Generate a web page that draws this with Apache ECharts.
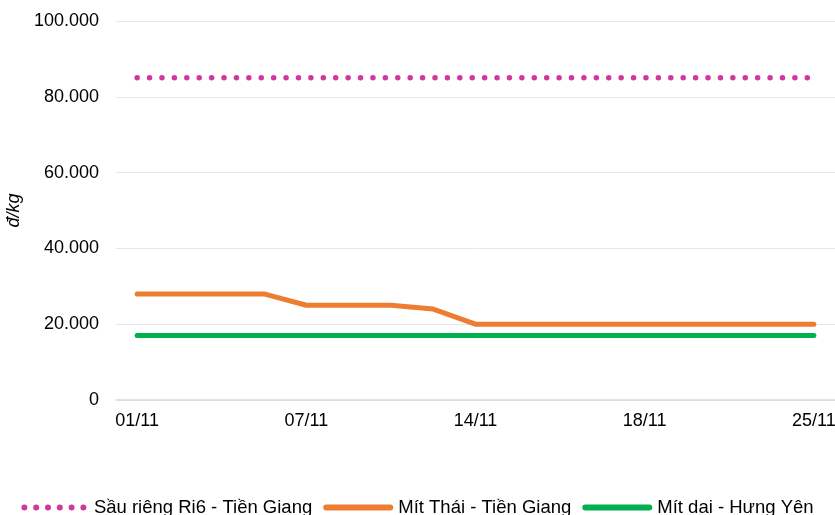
<!DOCTYPE html>
<html>
<head>
<meta charset="utf-8">
<script src="https://cdn.jsdelivr.net/npm/echarts@6/dist/echarts.min.js"></script>
<style>
  html, body { margin: 0; padding: 0; background: #fff; }
  #chart { width: 835px; height: 515px; }
</style>
</head>
<body>
<div id="chart"></div>
<script>
// Trading dates (November)
const categories = ['01/11', '02/11', '03/11', '04/11', '07/11', '08/11', '09/11', '10/11', '14/11',
                    '15/11', '16/11', '17/11', '18/11', '21/11', '22/11', '23/11', '25/11'];

// Prices, đ/kg
const sauRiengRi6 = [85000, 85000, 85000, 85000, 85000, 85000, 85000, 85000, 85000,
                     85000, 85000, 85000, 85000, 85000, 85000, 85000, 85000];
const mitThai = [28000, 28000, 28000, 28000, 25000, 25000, 25000, 24000, 20000,
                 20000, 20000, 20000, 20000, 20000, 20000, 20000, 20000];
const mitDai = [17000, 17000, 17000, 17000, 17000, 17000, 17000, 17000, 17000,
                17000, 17000, 17000, 17000, 17000, 17000, 17000, 17000];

const seriesNames = ['Sầu riêng Ri6 - Tiền Giang', 'Mít Thái - Tiền Giang', 'Mít dai - Hưng Yên'];
const seriesColors = ['#D2379E', '#ED7D31', '#00B050'];

const font = '"Liberation Sans", Arial, sans-serif';

function fmtThousands(v) {
  return String(v).replace(/\B(?=(\d{3})+(?!\d))/g, '.');
}

// Legend glyphs: a row of dots for the dotted series, a rounded bar for solid ones
function dotRowPath(count, step, r) {
  let d = '';
  for (let i = 0; i < count; i++) {
    const cx = r + i * step;
    d += 'M' + (cx - r) + ' ' + r + 'A' + r + ' ' + r + ' 0 1 0 ' + (cx + r) + ' ' + r +
         'A' + r + ' ' + r + ' 0 1 0 ' + (cx - r) + ' ' + r + 'Z';
  }
  return 'path://' + d;
}
function barPath(w, h) {
  const r = h / 2;
  return 'path://M' + r + ' 0L' + (w - r) + ' 0A' + r + ' ' + r + ' 0 0 1 ' + (w - r) + ' ' + h +
         'L' + r + ' ' + h + 'A' + r + ' ' + r + ' 0 0 1 ' + r + ' 0Z';
}

const chart = echarts.init(document.getElementById('chart'), null, { renderer: 'canvas' });

chart.setOption({
  animation: false,
  backgroundColor: '#ffffff',
  grid: { left: 116, right: 0, top: 21, bottom: 115, containLabel: false, outerBoundsMode: 'none' },
  legend: {
    top: 493,
    left: 'center',
    itemWidth: 70,
    itemHeight: 6,
    itemGap: 11,
    textStyle: { fontFamily: font, fontSize: 18.5, color: '#000' },
    data: [
      { name: seriesNames[0], icon: dotRowPath(6, 11.8, 3), itemStyle: { color: seriesColors[0] } },
      { name: seriesNames[1], icon: barPath(72, 6), itemStyle: { color: seriesColors[1] } },
      { name: seriesNames[2], icon: barPath(70, 6), itemStyle: { color: seriesColors[2] } }
    ]
  },
  xAxis: {
    type: 'category',
    data: categories,
    boundaryGap: true,
    axisLine: { show: true, lineStyle: { color: '#d9d9d9', width: 1.5 } },
    axisTick: { show: false },
    axisLabel: {
      interval: 3,
      margin: 12,
      fontFamily: font,
      fontSize: 18,
      color: '#000'
    }
  },
  yAxis: {
    type: 'value',
    min: 0,
    max: 100000,
    interval: 20000,
    name: 'đ/kg',
    nameLocation: 'middle',
    nameRotate: 90,
    nameGap: 85,
    nameTextStyle: { fontFamily: font, fontSize: 18, fontStyle: 'italic', color: '#000' },
    axisLine: { show: false },
    axisTick: { show: false },
    axisLabel: {
      margin: 17,
      fontFamily: font,
      fontSize: 18,
      color: '#000',
      formatter: fmtThousands
    },
    splitLine: { lineStyle: { color: '#e8e8e8', width: 1 } }
  },
  series: [
    {
      name: seriesNames[0],
      type: 'line',
      data: sauRiengRi6,
      symbol: 'none',
      color: seriesColors[0],
      lineStyle: { color: seriesColors[0], width: 5.5, type: [0.01, 12.4], cap: 'round' }
    },
    {
      name: seriesNames[1],
      type: 'line',
      data: mitThai,
      symbol: 'none',
      color: seriesColors[1],
      lineStyle: { color: seriesColors[1], width: 5, cap: 'round', join: 'round' }
    },
    {
      name: seriesNames[2],
      type: 'line',
      data: mitDai,
      symbol: 'none',
      color: seriesColors[2],
      lineStyle: { color: seriesColors[2], width: 5, cap: 'round', join: 'round' }
    }
  ]
});
</script>
</body>
</html>
